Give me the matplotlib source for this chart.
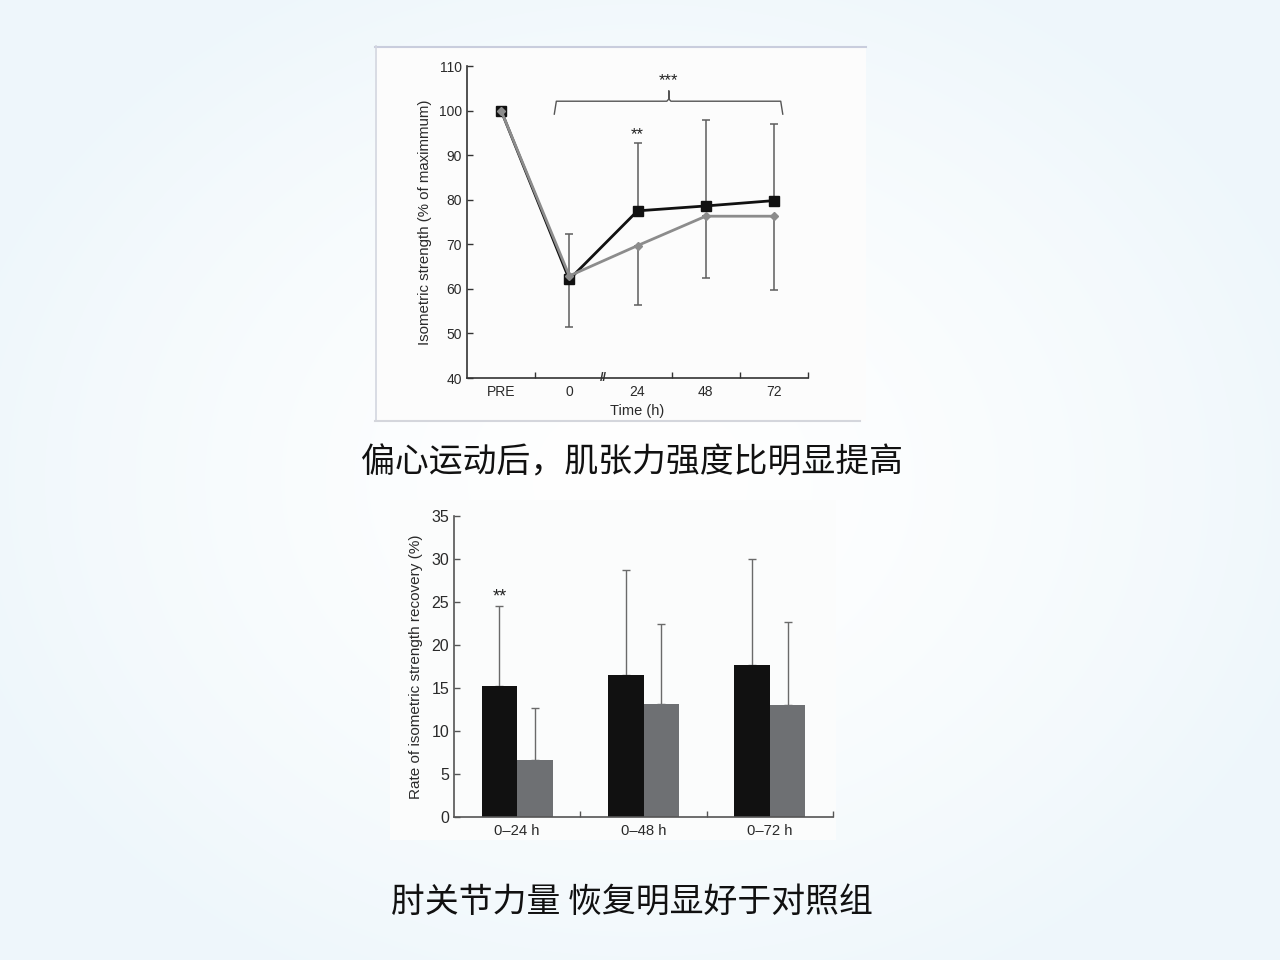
import numpy as np
import matplotlib
matplotlib.use('Agg')
import matplotlib.pyplot as plt
from matplotlib.patches import Rectangle
from matplotlib.lines import Line2D

plt.rcParams['font.family'] = ['Liberation Sans', 'DejaVu Sans']
plt.rcParams['axes.unicode_minus'] = False

# top chart: isometric strength over time
time_labels = ['PRE', '0', '24', '48', '72']
exp_mean = [100, 62.1, 77.5, 78.6, 79.8]
exp_err_up = [0, 10.3, 15.3, 19.2, 17.1]
ctl_mean = [100, 62.9, 69.7, 76.3, 76.3]
ctl_err_down = [0, 11.5, 13.4, 13.9, 16.6]

# bottom chart: recovery rate
groups = ['0–24 h', '0–48 h', '0–72 h']
exp_rate = [15.25, 16.45, 17.6]
exp_rate_err = [9.3, 12.25, 12.35]
ctl_rate = [6.6, 13.15, 13.05]
ctl_rate_err = [6.1, 9.25, 9.65]

caption_top = '偏心运动后，肌张力强度比明显提高'
caption_bottom = '肘关节力量 恢复明显好于对照组'

W, H = 1280, 960
fig = plt.figure(figsize=(12.8, 9.6), dpi=100)

# radial background
bg = fig.add_axes([0, 0, 1, 1])
yy, xx = np.mgrid[0:H, 0:W]
r = np.sqrt(((xx - 640) / 700.0) ** 2 + ((yy - 480) / 560.0) ** 2)
r = np.clip(r, 0, 1)
edge = np.array([0.935, 0.968, 0.985])
img = np.ones((H, W, 3)) * (1 - r[..., None] ** 1.5) + edge * (r[..., None] ** 1.5)
bg.imshow(img, extent=[0, W, H, 0], aspect='auto')
bg.set_xlim(0, W)
bg.set_ylim(H, 0)
bg.axis('off')

# paper panels
bg.add_patch(Rectangle((375, 46), 491, 375, facecolor='#fcfcfc', edgecolor='none'))
bg.add_line(Line2D([375, 866], [46.5, 46.5], color='#c9cddd', lw=1.5))
bg.add_line(Line2D([375.5, 375.5], [46, 421], color='#d3d6e0', lw=1.2))
bg.add_line(Line2D([375, 860], [421, 421], color='#d4d6dc', lw=1.5))
bg.add_patch(Rectangle((390, 500), 446, 340, facecolor='#fbfcfc', edgecolor='none'))

cjk = ['Noto Sans CJK SC', 'DejaVu Sans']
bg.text(632, 463, caption_top, fontsize=24.4, ha='center', va='center',
        family=cjk, fontweight='medium', color='#111111')
bg.text(632, 903, caption_bottom, fontsize=24.4, ha='center', va='center',
        family=cjk, fontweight='medium', color='#111111')

txt = '#2a2a2a'

# ---------- top line chart ----------
ax = fig.add_axes([467 / W, 1 - 378 / H, 341 / W, 312 / H])
ax.patch.set_alpha(0)
x = np.arange(len(time_labels))
ax.errorbar(x[1:], exp_mean[1:], yerr=[np.zeros(4), exp_err_up[1:]], fmt='none',
            ecolor='#5e5e5e', elinewidth=1.1, capsize=3, capthick=1.1, zorder=1)
ax.errorbar(x[1:], ctl_mean[1:], yerr=[ctl_err_down[1:], np.zeros(4)], fmt='none',
            ecolor='#5e5e5e', elinewidth=1.1, capsize=3, capthick=1.1, zorder=1)
ax.plot(x, exp_mean, color='#111111', lw=2, marker='s', markersize=7, zorder=3)
ax.plot(x, ctl_mean, color='#8c8c8c', lw=2, marker='D', markersize=4.5, zorder=4)

ax.set_xlim(-0.5, 4.5)
ax.set_ylim(40, 110)
ax.set_yticks(range(40, 111, 10))
ax.set_xticks(x)
ax.set_xticklabels(time_labels)
ax.set_xticks([0.5, 2.5, 3.5, 4.5], minor=True)
ax.tick_params(axis='x', which='major', length=0, labelsize=10, colors=txt, pad=5)
ax.tick_params(axis='x', which='minor', direction='in', length=4, width=1, color='#333333')
ax.tick_params(axis='y', direction='in', length=4, width=1, labelsize=10, colors=txt,
               color='#333333')
for s in ['top', 'right']:
    ax.spines[s].set_visible(False)
for s in ['left', 'bottom']:
    ax.spines[s].set_color('#333333')
    ax.spines[s].set_linewidth(1.2)
ax.set_xlabel('Time (h)', fontsize=10.5, color=txt, labelpad=4)
ax.set_ylabel('Isometric strength (% of maximmum)', fontsize=10.8, color=txt, labelpad=5)

# axis break
ax.text(1.5, 40, '//', fontsize=9, fontweight='bold', ha='center', va='center',
        color='#333333', clip_on=False, zorder=5)

# significance bracket
bx0, bx1, bm = 0.78, 4.13, 2.46
ax.plot([bx0, bx0 + 0.03, bm - 0.03, bm, bm, bm, bm + 0.03, bx1 - 0.03, bx1],
        [99.2, 102.1, 102.1, 102.6, 104.4, 102.6, 102.1, 102.1, 99.2],
        color='#555555', lw=1, clip_on=False)
ax.text(bm, 106.8, '***', ha='center', va='center', fontsize=12, color='#222222')
ax.text(2, 94.6, '**', ha='center', va='center', fontsize=12, color='#222222')

# ---------- bottom bar chart ----------
ax2 = fig.add_axes([454 / W, 1 - 817 / H, 379 / W, 301.3 / H])
ax2.patch.set_alpha(0)
g = np.arange(len(groups))
bw = 0.28
ax2.bar(g - bw / 2, exp_rate, bw, color='#111111', zorder=2)
ax2.bar(g + bw / 2, ctl_rate, bw, color='#6e7073', zorder=2)
ax2.errorbar(g - bw / 2, exp_rate, yerr=[np.zeros(3), exp_rate_err], fmt='none',
             ecolor='#6a6a6a', elinewidth=1, capsize=3, capthick=1, zorder=1)
ax2.errorbar(g + bw / 2, ctl_rate, yerr=[np.zeros(3), ctl_rate_err], fmt='none',
             ecolor='#6a6a6a', elinewidth=1, capsize=3, capthick=1, zorder=1)
ax2.text(g[0] - bw / 2, 25.6, '**', ha='center', va='center', fontsize=13, color='#222222')

ax2.set_xlim(-0.5, 2.5)
ax2.set_ylim(0, 35)
ax2.set_yticks(range(0, 36, 5))
ax2.set_xticks(g)
ax2.set_xticklabels(groups)
ax2.set_xticks([0.5, 1.5, 2.5], minor=True)
ax2.tick_params(axis='x', which='major', length=0, labelsize=10.7, colors=txt, pad=5)
ax2.tick_params(axis='x', which='minor', direction='in', length=4, width=1, color='#555555')
ax2.tick_params(axis='y', direction='in', length=4, width=1, labelsize=11.5, colors=txt,
                color='#555555')
for s in ['top', 'right']:
    ax2.spines[s].set_visible(False)
for s in ['left', 'bottom']:
    ax2.spines[s].set_color('#555555')
    ax2.spines[s].set_linewidth(1.2)
ax2.set_ylabel('Rate of isometric strength recovery (%)', fontsize=11, color=txt, labelpad=6)

fig.savefig('out.png', dpi=100)
plt.close(fig)
